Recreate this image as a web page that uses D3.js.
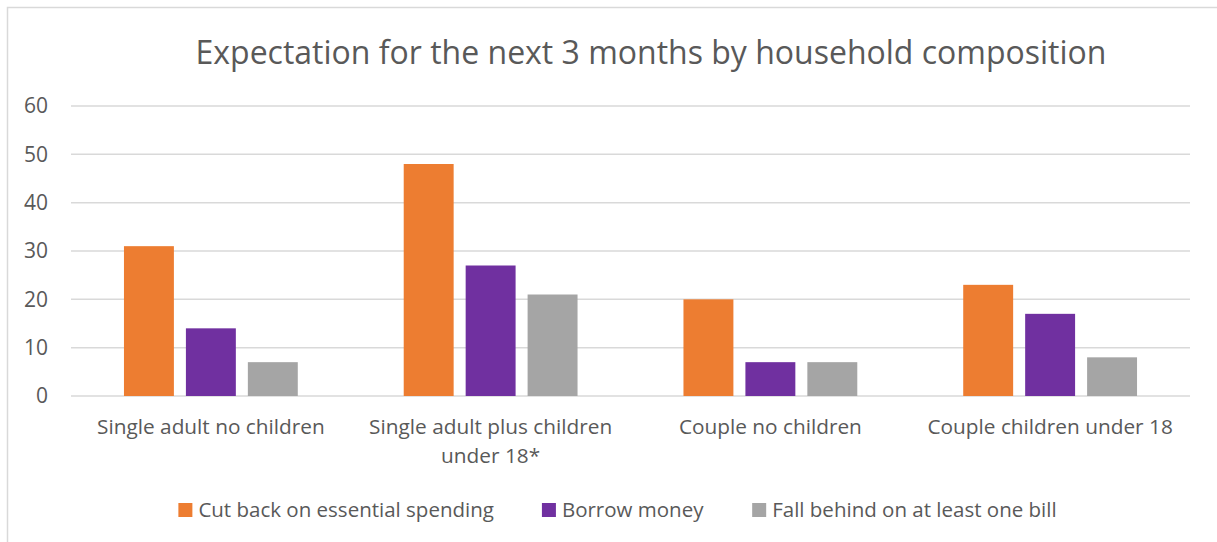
<!DOCTYPE html>
<html>
<head>
<meta charset="utf-8">
<script src="https://cdn.jsdelivr.net/npm/d3@7"></script>
<style>
  body { margin: 0; background: #fff; }
  svg { font-family: "Open Sans", "Noto Sans", sans-serif; }
</style>
</head>
<body>
<div id="chart"></div>
<script>
var categories = ["Single adult no children", "Single adult plus children under 18*", "Couple no children", "Couple children under 18"];
var seriesNames = ["Cut back on essential spending", "Borrow money", "Fall behind on at least one bill"];
var cutBack = [31, 48, 20, 23];
var borrow = [14, 27, 7, 17];
var fallBehind = [7, 21, 7, 8];
var yTicks = [0, 10, 20, 30, 40, 50, 60];
var colors = ["#ED7D31", "#7030A0", "#A5A5A5"];

var seriesValues = [cutBack, borrow, fallBehind];
var data = categories.map(function(c, i) {
  return { cat: c, values: seriesNames.map(function(s, j) { return { key: s, value: seriesValues[j][i] }; }) };
});

var W = 1217, H = 542;
var margin = {top: 106, right: 27, bottom: 146, left: 71};
var width = W - margin.left - margin.right;
var height = H - margin.top - margin.bottom;
var textColor = "#595959";

var svg = d3.select("#chart").append("svg")
  .attr("width", W)
  .attr("height", H);

// chart border (only top and left show in the crop)
svg.append("path")
  .attr("d", "M7.5," + H + "V7.5H" + W)
  .attr("fill", "none")
  .attr("stroke", "#d9d9d9")
  .attr("stroke-width", 1.5);

svg.append("text")
  .attr("x", 651)
  .attr("y", 64)
  .attr("text-anchor", "middle")
  .attr("font-size", 32)
  .attr("fill", textColor)
  .text("Expectation for the next 3 months by household composition");

var g = svg.append("g")
  .attr("transform", "translate(" + margin.left + "," + margin.top + ")");

var y = d3.scaleLinear().domain([0, 60]).range([height, 0]);
var x0 = d3.scaleBand().domain(categories).range([0, width]).padding(0);
var x1 = d3.scaleBand().domain(seriesNames).range([0, x0.bandwidth()])
  .paddingInner(0.194).paddingOuter(0.855);

// gridlines
g.selectAll("line.grid")
  .data(yTicks)
  .enter().append("line")
  .attr("class", "grid")
  .attr("x1", 0)
  .attr("x2", width)
  .attr("y1", function(d) { return y(d); })
  .attr("y2", function(d) { return y(d); })
  .attr("stroke", "#d9d9d9")
  .attr("stroke-width", 1.5);

// y axis labels
var yAxis = g.append("g")
  .call(d3.axisLeft(y).tickValues(yTicks).tickSize(0).tickPadding(23));
yAxis.select(".domain").remove();
yAxis.selectAll("text")
  .attr("font-family", "Open Sans, Noto Sans, sans-serif")
  .attr("font-size", 21)
  .attr("fill", textColor);

// bars
var groups = g.selectAll("g.cat")
  .data(data)
  .enter().append("g")
  .attr("class", "cat")
  .attr("transform", function(d) { return "translate(" + x0(d.cat) + ",0)"; });

groups.selectAll("rect")
  .data(function(d) { return d.values; })
  .enter().append("rect")
  .attr("x", function(d) { return x1(d.key); })
  .attr("width", x1.bandwidth())
  .attr("y", function(d) { return y(d.value); })
  .attr("height", function(d) { return height - y(d.value); })
  .attr("fill", function(d, i) { return colors[i]; });

// x axis labels
var xAxis = g.append("g")
  .attr("transform", "translate(0," + height + ")")
  .call(d3.axisBottom(x0).tickSize(0).tickPadding(23));
xAxis.select(".domain").remove();
xAxis.selectAll("text")
  .attr("font-family", "Open Sans, Noto Sans, sans-serif")
  .attr("font-size", 20.8)
  .attr("fill", textColor)
  .call(wrap, 265);

function wrap(sel, w) {
  sel.each(function() {
    var text = d3.select(this);
    var words = text.text().split(/\s+/);
    var yy = text.attr("y"), dy = parseFloat(text.attr("dy"));
    var line = [];
    var lineNo = 0;
    var tspan = text.text(null).append("tspan").attr("x", 0).attr("y", yy).attr("dy", dy + "em");
    words.forEach(function(word) {
      line.push(word);
      tspan.text(line.join(" "));
      if (tspan.node().getComputedTextLength() > w && line.length > 1) {
        line.pop();
        tspan.text(line.join(" "));
        line = [word];
        lineNo++;
        tspan = text.append("tspan").attr("x", 0).attr("y", yy)
          .attr("dy", (lineNo * 1.4 + dy) + "em").text(word);
      }
    });
  });
}

// legend
var legend = svg.append("g").attr("transform", "translate(0,510)");
var items = legend.selectAll("g.item")
  .data(seriesNames)
  .enter().append("g")
  .attr("class", "item");
items.append("rect")
  .attr("y", -7)
  .attr("width", 14)
  .attr("height", 14)
  .attr("fill", function(d, i) { return colors[i]; });
items.append("text")
  .attr("x", 20)
  .attr("dy", "0.35em")
  .attr("font-size", 20.5)
  .attr("fill", textColor)
  .text(function(d) { return d; });

var widths = [];
items.each(function() { widths.push(this.getBBox().width); });
var gap = 48;
var total = d3.sum(widths) + gap * (widths.length - 1);
var pos = 617.5 - total / 2;
items.attr("transform", function(d, i) {
  var p = pos;
  pos += widths[i] + gap;
  return "translate(" + p + ",0)";
});
</script>
</body>
</html>
